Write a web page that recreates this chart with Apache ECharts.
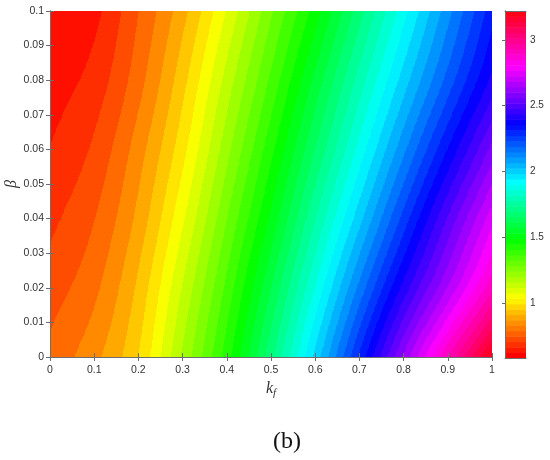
<!DOCTYPE html>
<html><head><meta charset="utf-8">
<script src="https://cdn.jsdelivr.net/npm/echarts@6/dist/echarts.min.js"></script>
<style>html,body{margin:0;padding:0;background:#fff}#c{width:550px;height:460px}</style>
</head><body><div id="c"></div>
<script>
const kfValues = [0, 0.1, 0.2, 0.3, 0.4, 0.5, 0.6, 0.7, 0.8, 0.9, 1];
const betaValues = [0, 0.02, 0.04, 0.06, 0.08, 0.1];
const zBeta000 = [0.753, 0.828, 0.951, 1.170, 1.401, 1.673, 1.970, 2.280, 2.597, 2.898, 3.191];
const zBeta002 = [0.712, 0.778, 0.910, 1.112, 1.335, 1.582, 1.851, 2.127, 2.395, 2.643, 2.890];
const zBeta004 = [0.671, 0.737, 0.861, 1.046, 1.265, 1.490, 1.739, 1.987, 2.238, 2.486, 2.725];
const zBeta006 = [0.634, 0.696, 0.819, 0.984, 1.195, 1.409, 1.636, 1.867, 2.098, 2.325, 2.552];
const zBeta008 = [0.605, 0.654, 0.770, 0.931, 1.129, 1.331, 1.545, 1.764, 1.978, 2.185, 2.391];
const zBeta010 = [0.580, 0.617, 0.737, 0.877, 1.059, 1.257, 1.450, 1.665, 1.879, 2.090, 2.300];
const colorbarMin = 0.58;
const colorbarMax = 3.22;
const colorbarTicks = [1, 1.5, 2, 2.5, 3];
const contourLevels = 50;
const colormapSize = 64;

const zRows = [zBeta000, zBeta002, zBeta004, zBeta006, zBeta008, zBeta010];
const gridData = [];
zRows.forEach((row, j) => row.forEach((z, i) => gridData.push([kfValues[i], betaValues[j], z])));

function hsv(h) {
  h = ((h % 1) + 1) % 1;
  const k = h * 6, i = Math.floor(k), f = k - i;
  const q = 1 - f, t = f;
  let r, g, b;
  switch (i) {
    case 0: r = 1; g = t; b = 0; break;
    case 1: r = q; g = 1; b = 0; break;
    case 2: r = 0; g = 1; b = t; break;
    case 3: r = 0; g = q; b = 1; break;
    case 4: r = t; g = 0; b = 1; break;
    default: r = 1; g = 0; b = q;
  }
  return 'rgb(' + Math.round(r * 255) + ',' + Math.round(g * 255) + ',' + Math.round(b * 255) + ')';
}
function bandColor(z) {
  let b = Math.floor((z - colorbarMin) / (colorbarMax - colorbarMin) * contourLevels);
  b = Math.max(0, Math.min(contourLevels - 1, b));
  return hsv(Math.min(63 / 64, (b + 0.5) / contourLevels));
}

const nx = kfValues.length, ny = betaValues.length;
// smooth (Catmull-Rom) surface through the sampled grid, used only for shading
function cr(p0, p1, p2, p3, t) {
  return 0.5 * (2 * p1 + (-p0 + p2) * t + (2 * p0 - 5 * p1 + 4 * p2 - p3) * t * t + (-p0 + 3 * p1 - 3 * p2 + p3) * t * t * t);
}
function zAt(i, j) {
  const ci = Math.max(0, Math.min(nx - 1, i)), cj = Math.max(0, Math.min(ny - 1, j));
  let z = zRows[cj][ci];
  if (i < 0) z = 2 * zRows[cj][0] - zRows[cj][1];
  if (i > nx - 1) z = 2 * zRows[cj][nx - 1] - zRows[cj][nx - 2];
  if (j < 0) z = 2 * zRows[0][ci] - zRows[1][ci];
  if (j > ny - 1) z = 2 * zRows[ny - 1][ci] - zRows[ny - 2][ci];
  return z;
}
function surface(u, w) {
  const i = Math.min(nx - 2, Math.max(0, Math.floor(u)));
  const j = Math.min(ny - 2, Math.max(0, Math.floor(w)));
  const s = u - i, t = w - j;
  const col = [];
  for (let dj = -1; dj <= 2; dj++) {
    col.push(cr(zAt(i - 1, j + dj), zAt(i, j + dj), zAt(i + 1, j + dj), zAt(i + 2, j + dj), s));
  }
  return cr(col[0], col[1], col[2], col[3], t);
}

function renderCell(params, api) {
  const idx = params.dataIndex;
  const i = idx % nx, j = Math.floor(idx / nx);
  if (i >= nx - 1 || j >= ny - 1) return { type: 'group', children: [] };
  const pA = api.coord([kfValues[i], betaValues[j]]);
  const pB = api.coord([kfValues[i + 1], betaValues[j + 1]]);
  const x0 = pA[0], x1 = pB[0], yB = pA[1], yT = pB[1];
  const cx0 = Math.round(x0), cx1 = Math.round(x1), cy0 = Math.round(yT), cy1 = Math.round(yB);
  const children = [];
  for (let py = cy0; py < cy1; py += 2) {
    const h = Math.min(2, cy1 - py);
    const t = (yB - (py + h / 2)) / (yB - yT);
    let runStart = cx0, runColor = null;
    for (let px = cx0; px <= cx1; px++) {
      let col = null;
      if (px < cx1) {
        const s = (px + 0.5 - x0) / (x1 - x0);
        col = bandColor(surface(i + s, j + t));
      }
      if (col !== runColor) {
        if (runColor !== null) {
          children.push({ type: 'rect', silent: true,
            shape: { x: runStart, y: py, width: px - runStart + 0.6, height: h + 0.6 },
            style: { fill: runColor } });
        }
        runStart = px; runColor = col;
      }
    }
  }
  return { type: 'group', children };
}

const colorbarData = [];
for (let k = 0; k < colormapSize; k++) colorbarData.push([k]);
function renderBar(params, api) {
  const k = api.value(0);
  const lo = colorbarMin + k / colormapSize * (colorbarMax - colorbarMin);
  const hi = colorbarMin + (k + 1) / colormapSize * (colorbarMax - colorbarMin);
  const a = api.coord([0, lo]), b = api.coord([1, hi]);
  return { type: 'rect', silent: true,
    shape: { x: a[0], y: b[1], width: b[0] - a[0], height: a[1] - b[1] + 0.5 },
    style: { fill: hsv(k / colormapSize) } };
}

const axisColor = '#6e6e6e';
const labelStyle = { color: '#333', fontSize: 10.5, fontFamily: 'Liberation Sans' };
const chart = echarts.init(document.getElementById('c'), null, { renderer: 'canvas' });
chart.setOption({
  animation: false,
  backgroundColor: '#fff',
  grid: [
    { left: 50, top: 11, width: 442, height: 346, containLabel: false, outerBoundsMode: 'none' },
    { left: 505, top: 11, width: 21, height: 347, containLabel: false, outerBoundsMode: 'none' }
  ],
  xAxis: [
    { type: 'value', gridIndex: 0, min: 0, max: 1, interval: 0.1, position: 'bottom', z: 10,
      axisLine: { show: true, lineStyle: { color: axisColor } },
      axisTick: { show: true, inside: true, length: 4, lineStyle: { color: axisColor } },
      axisLabel: Object.assign({ margin: 8 }, labelStyle),
      splitLine: { show: false },
      name: '{k|k}{f|f}', nameLocation: 'middle', nameGap: 22, nameMoveOverlap: false,
      nameTextStyle: { rich: {
        k: { fontFamily: 'Liberation Serif', fontStyle: 'italic', fontSize: 16, color: '#333', lineHeight: 20, verticalAlign: 'middle' },
        f: { fontFamily: 'Liberation Serif', fontStyle: 'italic', fontSize: 11, color: '#333', lineHeight: 20, verticalAlign: 'bottom' }
      } } },
    { type: 'value', gridIndex: 0, min: 0, max: 1, interval: 0.1, position: 'top', z: 10,
      axisLine: { show: true, lineStyle: { color: axisColor } },
      axisTick: { show: true, inside: true, length: 4, lineStyle: { color: axisColor } },
      axisLabel: { show: false }, splitLine: { show: false } },
    { type: 'value', gridIndex: 1, min: 0, max: 1, position: 'bottom', z: 10,
      axisLine: { show: true, lineStyle: { color: axisColor } },
      axisTick: { show: false }, axisLabel: { show: false }, splitLine: { show: false } },
    { type: 'value', gridIndex: 1, min: 0, max: 1, position: 'top', z: 10,
      axisLine: { show: true, lineStyle: { color: axisColor } },
      axisTick: { show: false }, axisLabel: { show: false }, splitLine: { show: false } }
  ],
  yAxis: [
    { type: 'value', gridIndex: 0, min: 0, max: 0.1, interval: 0.01, position: 'left', z: 10,
      axisLine: { show: true, lineStyle: { color: axisColor } },
      axisTick: { show: true, inside: true, length: 4, lineStyle: { color: axisColor } },
      axisLabel: Object.assign({ margin: 6 }, labelStyle),
      splitLine: { show: false },
      name: 'β', nameLocation: 'middle', nameGap: 30, nameMoveOverlap: false,
      nameTextStyle: { fontFamily: 'Liberation Serif', fontStyle: 'italic', fontSize: 16, color: '#333' } },
    { type: 'value', gridIndex: 0, min: 0, max: 0.1, interval: 0.01, position: 'right', z: 10,
      axisLine: { show: true, lineStyle: { color: axisColor } },
      axisTick: { show: true, inside: true, length: 4, lineStyle: { color: axisColor } },
      axisLabel: { show: false }, splitLine: { show: false } },
    { type: 'value', gridIndex: 1, min: colorbarMin, max: colorbarMax, position: 'left', z: 10,
      axisLine: { show: true, lineStyle: { color: axisColor } },
      axisTick: { show: false }, axisLabel: { show: false }, splitLine: { show: false } },
    { type: 'value', gridIndex: 1, min: colorbarMin, max: colorbarMax, position: 'right', z: 10,
      axisLine: { show: true, lineStyle: { color: axisColor } },
      axisTick: { show: true, inside: true, length: 3, customValues: colorbarTicks, lineStyle: { color: axisColor } },
      axisLabel: Object.assign({ margin: 4, customValues: colorbarTicks }, labelStyle, { fontSize: 10 }),
      splitLine: { show: false } }
  ],
  series: [
    { type: 'custom', xAxisIndex: 0, yAxisIndex: 0, data: gridData, renderItem: renderCell, clip: true, silent: true },
    { type: 'custom', xAxisIndex: 2, yAxisIndex: 2, data: colorbarData, renderItem: renderBar, silent: true }
  ],
  graphic: [
    { type: 'text', left: 273, top: 430, style: { text: '(b)', fontFamily: 'Liberation Serif', fontSize: 24, fill: '#111' } }
  ]
});
</script></body></html>
